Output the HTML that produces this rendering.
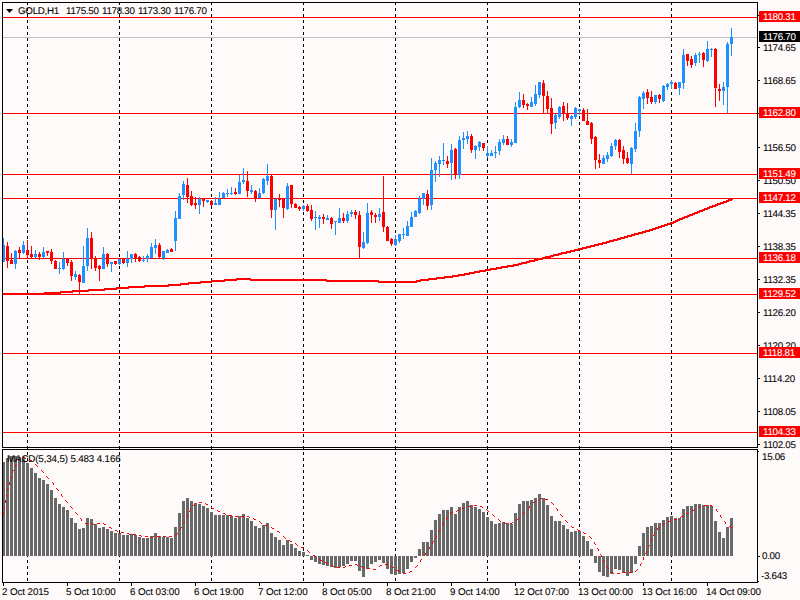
<!DOCTYPE html>
<html><head><meta charset="utf-8"><style>
html,body{margin:0;padding:0;}
body{width:800px;height:600px;overflow:hidden;position:relative;background:#FFFAFA;font-family:"Liberation Sans",sans-serif;}
.t{position:absolute;font-size:9.8px;line-height:14px;white-space:nowrap;text-rendering:geometricPrecision;letter-spacing:-0.3px;-webkit-text-stroke:0.08px currentColor;}
.box{position:absolute;left:759px;width:41px;height:11px;}
</style></head><body>
<svg width="800" height="600" style="position:absolute;left:0;top:0"><defs><clipPath id="cm"><rect x="3" y="3" width="754" height="444"/></clipPath><clipPath id="ci"><rect x="3" y="450" width="754" height="132"/></clipPath></defs><line x1="27.5" y1="2" x2="27.5" y2="582" stroke="#000" stroke-dasharray="3 3"/><line x1="119.5" y1="2" x2="119.5" y2="582" stroke="#000" stroke-dasharray="3 3"/><line x1="211.5" y1="2" x2="211.5" y2="582" stroke="#000" stroke-dasharray="3 3"/><line x1="303.5" y1="2" x2="303.5" y2="582" stroke="#000" stroke-dasharray="3 3"/><line x1="395.5" y1="2" x2="395.5" y2="582" stroke="#000" stroke-dasharray="3 3"/><line x1="487.5" y1="2" x2="487.5" y2="582" stroke="#000" stroke-dasharray="3 3"/><line x1="579.5" y1="2" x2="579.5" y2="582" stroke="#000" stroke-dasharray="3 3"/><line x1="671.5" y1="2" x2="671.5" y2="582" stroke="#000" stroke-dasharray="3 3"/><g clip-path="url(#cm)"><rect x="3" y="17" width="754" height="1" fill="#FF0000"/><rect x="3" y="113" width="754" height="1" fill="#FF0000"/><rect x="3" y="174" width="754" height="1" fill="#FF0000"/><rect x="3" y="198" width="754" height="1" fill="#FF0000"/><rect x="3" y="258" width="754" height="1" fill="#FF0000"/><rect x="3" y="294" width="754" height="1" fill="#FF0000"/><rect x="3" y="353" width="754" height="1" fill="#FF0000"/><rect x="3" y="432" width="754" height="1" fill="#FF0000"/><rect x="3" y="37" width="754" height="1" fill="#C0C0C0"/><rect x="3" y="293" width="41" height="2" fill="#FF0000"/><rect x="44" y="292" width="16" height="2" fill="#FF0000"/><rect x="60" y="291" width="12" height="2" fill="#FF0000"/><rect x="72" y="290" width="16" height="2" fill="#FF0000"/><rect x="88" y="289" width="16" height="2" fill="#FF0000"/><rect x="104" y="288" width="12" height="2" fill="#FF0000"/><rect x="116" y="287" width="12" height="2" fill="#FF0000"/><rect x="128" y="286" width="16" height="2" fill="#FF0000"/><rect x="144" y="285" width="24" height="2" fill="#FF0000"/><rect x="168" y="284" width="12" height="2" fill="#FF0000"/><rect x="180" y="283" width="8" height="2" fill="#FF0000"/><rect x="188" y="282" width="12" height="2" fill="#FF0000"/><rect x="200" y="281" width="11" height="2" fill="#FF0000"/><rect x="211" y="280" width="13" height="2" fill="#FF0000"/><rect x="224" y="279" width="12" height="2" fill="#FF0000"/><rect x="236" y="278" width="15" height="2" fill="#FF0000"/><rect x="251" y="279" width="76" height="2" fill="#FF0000"/><rect x="327" y="280" width="52" height="2" fill="#FF0000"/><rect x="379" y="281" width="37" height="2" fill="#FF0000"/><rect x="416" y="280" width="4" height="2" fill="#FF0000"/><rect x="420" y="279" width="8" height="2" fill="#FF0000"/><rect x="428" y="278" width="8" height="2" fill="#FF0000"/><rect x="436" y="277" width="8" height="2" fill="#FF0000"/><rect x="444" y="276" width="8" height="2" fill="#FF0000"/><rect x="452" y="275" width="6" height="2" fill="#FF0000"/><rect x="458" y="274" width="6" height="2" fill="#FF0000"/><rect x="464" y="273" width="5" height="2" fill="#FF0000"/><rect x="469" y="272" width="5" height="2" fill="#FF0000"/><rect x="474" y="271" width="5" height="2" fill="#FF0000"/><rect x="479" y="270" width="6" height="2" fill="#FF0000"/><rect x="485" y="269" width="5" height="2" fill="#FF0000"/><rect x="490" y="268" width="6" height="2" fill="#FF0000"/><rect x="496" y="267" width="5" height="2" fill="#FF0000"/><rect x="501" y="266" width="6" height="2" fill="#FF0000"/><rect x="507" y="265" width="6" height="2" fill="#FF0000"/><rect x="513" y="264" width="5" height="2" fill="#FF0000"/><rect x="518" y="263" width="3" height="2" fill="#FF0000"/><rect x="521" y="262" width="5" height="2" fill="#FF0000"/><rect x="526" y="261" width="3" height="2" fill="#FF0000"/><rect x="529" y="260" width="5" height="2" fill="#FF0000"/><rect x="534" y="259" width="3" height="2" fill="#FF0000"/><rect x="537" y="258" width="5" height="2" fill="#FF0000"/><rect x="542" y="257" width="3" height="2" fill="#FF0000"/><rect x="545" y="256" width="5" height="2" fill="#FF0000"/><rect x="550" y="255" width="3" height="2" fill="#FF0000"/><rect x="553" y="254" width="5" height="2" fill="#FF0000"/><rect x="558" y="253" width="3" height="2" fill="#FF0000"/><rect x="561" y="252" width="5" height="2" fill="#FF0000"/><rect x="566" y="251" width="4" height="2" fill="#FF0000"/><rect x="570" y="250" width="4" height="2" fill="#FF0000"/><rect x="574" y="249" width="4" height="2" fill="#FF0000"/><rect x="578" y="248" width="4" height="2" fill="#FF0000"/><rect x="582" y="247" width="4" height="2" fill="#FF0000"/><rect x="586" y="246" width="4" height="2" fill="#FF0000"/><rect x="590" y="245" width="4" height="2" fill="#FF0000"/><rect x="594" y="244" width="4" height="2" fill="#FF0000"/><rect x="598" y="243" width="4" height="2" fill="#FF0000"/><rect x="602" y="242" width="4" height="2" fill="#FF0000"/><rect x="606" y="241" width="3" height="2" fill="#FF0000"/><rect x="609" y="240" width="4" height="2" fill="#FF0000"/><rect x="613" y="239" width="4" height="2" fill="#FF0000"/><rect x="617" y="238" width="3" height="2" fill="#FF0000"/><rect x="620" y="237" width="4" height="2" fill="#FF0000"/><rect x="624" y="236" width="3" height="2" fill="#FF0000"/><rect x="627" y="235" width="4" height="2" fill="#FF0000"/><rect x="631" y="234" width="3" height="2" fill="#FF0000"/><rect x="634" y="233" width="4" height="2" fill="#FF0000"/><rect x="638" y="232" width="4" height="2" fill="#FF0000"/><rect x="642" y="231" width="3" height="2" fill="#FF0000"/><rect x="645" y="230" width="4" height="2" fill="#FF0000"/><rect x="649" y="229" width="3" height="2" fill="#FF0000"/><rect x="652" y="228" width="3" height="2" fill="#FF0000"/><rect x="655" y="227" width="3" height="2" fill="#FF0000"/><rect x="658" y="226" width="3" height="2" fill="#FF0000"/><rect x="661" y="225" width="3" height="2" fill="#FF0000"/><rect x="664" y="224" width="3" height="2" fill="#FF0000"/><rect x="667" y="223" width="3" height="2" fill="#FF0000"/><rect x="670" y="222" width="3" height="2" fill="#FF0000"/><rect x="673" y="221" width="2" height="2" fill="#FF0000"/><rect x="675" y="220" width="2" height="2" fill="#FF0000"/><rect x="677" y="219" width="2" height="2" fill="#FF0000"/><rect x="679" y="218" width="3" height="2" fill="#FF0000"/><rect x="682" y="217" width="2" height="2" fill="#FF0000"/><rect x="684" y="216" width="3" height="2" fill="#FF0000"/><rect x="687" y="215" width="2" height="2" fill="#FF0000"/><rect x="689" y="214" width="3" height="2" fill="#FF0000"/><rect x="692" y="213" width="2" height="2" fill="#FF0000"/><rect x="694" y="212" width="3" height="2" fill="#FF0000"/><rect x="697" y="211" width="2" height="2" fill="#FF0000"/><rect x="699" y="210" width="3" height="2" fill="#FF0000"/><rect x="702" y="209" width="2" height="2" fill="#FF0000"/><rect x="704" y="208" width="3" height="2" fill="#FF0000"/><rect x="707" y="207" width="2" height="2" fill="#FF0000"/><rect x="709" y="206" width="3" height="2" fill="#FF0000"/><rect x="712" y="205" width="3" height="2" fill="#FF0000"/><rect x="715" y="204" width="2" height="2" fill="#FF0000"/><rect x="717" y="203" width="3" height="2" fill="#FF0000"/><rect x="720" y="202" width="3" height="2" fill="#FF0000"/><rect x="723" y="201" width="3" height="2" fill="#FF0000"/><rect x="726" y="200" width="2" height="2" fill="#FF0000"/><rect x="728" y="199" width="3" height="2" fill="#FF0000"/><rect x="731" y="198" width="2" height="2" fill="#FF0000"/><rect x="44" y="292" width="1" height="3" fill="#FF0000"/><rect x="60" y="291" width="1" height="3" fill="#FF0000"/><rect x="72" y="290" width="1" height="3" fill="#FF0000"/><rect x="88" y="289" width="1" height="3" fill="#FF0000"/><rect x="104" y="288" width="1" height="3" fill="#FF0000"/><rect x="116" y="287" width="1" height="3" fill="#FF0000"/><rect x="128" y="286" width="1" height="3" fill="#FF0000"/><rect x="144" y="285" width="1" height="3" fill="#FF0000"/><rect x="168" y="284" width="1" height="3" fill="#FF0000"/><rect x="180" y="283" width="1" height="3" fill="#FF0000"/><rect x="188" y="282" width="1" height="3" fill="#FF0000"/><rect x="200" y="281" width="1" height="3" fill="#FF0000"/><rect x="211" y="280" width="1" height="3" fill="#FF0000"/><rect x="224" y="279" width="1" height="3" fill="#FF0000"/><rect x="236" y="278" width="1" height="3" fill="#FF0000"/><rect x="250" y="278" width="1" height="3" fill="#FF0000"/><rect x="326" y="279" width="1" height="3" fill="#FF0000"/><rect x="378" y="280" width="1" height="3" fill="#FF0000"/><rect x="416" y="280" width="1" height="3" fill="#FF0000"/><rect x="420" y="279" width="1" height="3" fill="#FF0000"/><rect x="428" y="278" width="1" height="3" fill="#FF0000"/><rect x="436" y="277" width="1" height="3" fill="#FF0000"/><rect x="444" y="276" width="1" height="3" fill="#FF0000"/><rect x="452" y="275" width="1" height="3" fill="#FF0000"/><rect x="458" y="274" width="1" height="3" fill="#FF0000"/><rect x="464" y="273" width="1" height="3" fill="#FF0000"/><rect x="469" y="272" width="1" height="3" fill="#FF0000"/><rect x="474" y="271" width="1" height="3" fill="#FF0000"/><rect x="479" y="270" width="1" height="3" fill="#FF0000"/><rect x="485" y="269" width="1" height="3" fill="#FF0000"/><rect x="490" y="268" width="1" height="3" fill="#FF0000"/><rect x="496" y="267" width="1" height="3" fill="#FF0000"/><rect x="501" y="266" width="1" height="3" fill="#FF0000"/><rect x="507" y="265" width="1" height="3" fill="#FF0000"/><rect x="513" y="264" width="1" height="3" fill="#FF0000"/><rect x="518" y="263" width="1" height="3" fill="#FF0000"/><rect x="521" y="262" width="1" height="3" fill="#FF0000"/><rect x="526" y="261" width="1" height="3" fill="#FF0000"/><rect x="529" y="260" width="1" height="3" fill="#FF0000"/><rect x="534" y="259" width="1" height="3" fill="#FF0000"/><rect x="537" y="258" width="1" height="3" fill="#FF0000"/><rect x="542" y="257" width="1" height="3" fill="#FF0000"/><rect x="545" y="256" width="1" height="3" fill="#FF0000"/><rect x="550" y="255" width="1" height="3" fill="#FF0000"/><rect x="553" y="254" width="1" height="3" fill="#FF0000"/><rect x="558" y="253" width="1" height="3" fill="#FF0000"/><rect x="561" y="252" width="1" height="3" fill="#FF0000"/><rect x="566" y="251" width="1" height="3" fill="#FF0000"/><rect x="570" y="250" width="1" height="3" fill="#FF0000"/><rect x="574" y="249" width="1" height="3" fill="#FF0000"/><rect x="578" y="248" width="1" height="3" fill="#FF0000"/><rect x="582" y="247" width="1" height="3" fill="#FF0000"/><rect x="586" y="246" width="1" height="3" fill="#FF0000"/><rect x="590" y="245" width="1" height="3" fill="#FF0000"/><rect x="594" y="244" width="1" height="3" fill="#FF0000"/><rect x="598" y="243" width="1" height="3" fill="#FF0000"/><rect x="602" y="242" width="1" height="3" fill="#FF0000"/><rect x="606" y="241" width="1" height="3" fill="#FF0000"/><rect x="609" y="240" width="1" height="3" fill="#FF0000"/><rect x="613" y="239" width="1" height="3" fill="#FF0000"/><rect x="617" y="238" width="1" height="3" fill="#FF0000"/><rect x="620" y="237" width="1" height="3" fill="#FF0000"/><rect x="624" y="236" width="1" height="3" fill="#FF0000"/><rect x="627" y="235" width="1" height="3" fill="#FF0000"/><rect x="631" y="234" width="1" height="3" fill="#FF0000"/><rect x="634" y="233" width="1" height="3" fill="#FF0000"/><rect x="638" y="232" width="1" height="3" fill="#FF0000"/><rect x="642" y="231" width="1" height="3" fill="#FF0000"/><rect x="645" y="230" width="1" height="3" fill="#FF0000"/><rect x="649" y="229" width="1" height="3" fill="#FF0000"/><rect x="652" y="228" width="1" height="3" fill="#FF0000"/><rect x="655" y="227" width="1" height="3" fill="#FF0000"/><rect x="658" y="226" width="1" height="3" fill="#FF0000"/><rect x="661" y="225" width="1" height="3" fill="#FF0000"/><rect x="664" y="224" width="1" height="3" fill="#FF0000"/><rect x="667" y="223" width="1" height="3" fill="#FF0000"/><rect x="670" y="222" width="1" height="3" fill="#FF0000"/><rect x="673" y="221" width="1" height="3" fill="#FF0000"/><rect x="675" y="220" width="1" height="3" fill="#FF0000"/><rect x="677" y="219" width="1" height="3" fill="#FF0000"/><rect x="679" y="218" width="1" height="3" fill="#FF0000"/><rect x="682" y="217" width="1" height="3" fill="#FF0000"/><rect x="684" y="216" width="1" height="3" fill="#FF0000"/><rect x="687" y="215" width="1" height="3" fill="#FF0000"/><rect x="689" y="214" width="1" height="3" fill="#FF0000"/><rect x="692" y="213" width="1" height="3" fill="#FF0000"/><rect x="694" y="212" width="1" height="3" fill="#FF0000"/><rect x="697" y="211" width="1" height="3" fill="#FF0000"/><rect x="699" y="210" width="1" height="3" fill="#FF0000"/><rect x="702" y="209" width="1" height="3" fill="#FF0000"/><rect x="704" y="208" width="1" height="3" fill="#FF0000"/><rect x="707" y="207" width="1" height="3" fill="#FF0000"/><rect x="709" y="206" width="1" height="3" fill="#FF0000"/><rect x="712" y="205" width="1" height="3" fill="#FF0000"/><rect x="715" y="204" width="1" height="3" fill="#FF0000"/><rect x="717" y="203" width="1" height="3" fill="#FF0000"/><rect x="720" y="202" width="1" height="3" fill="#FF0000"/><rect x="723" y="201" width="1" height="3" fill="#FF0000"/><rect x="726" y="200" width="1" height="3" fill="#FF0000"/><rect x="728" y="199" width="1" height="3" fill="#FF0000"/><rect x="731" y="198" width="1" height="3" fill="#FF0000"/><rect x="3" y="238" width="1" height="24" fill="#1E90FF"/><rect x="2" y="245" width="3" height="17" fill="#1E90FF"/><rect x="7" y="242" width="1" height="26" fill="#FF0000"/><rect x="6" y="246" width="3" height="15" fill="#FF0000"/><rect x="11" y="253" width="1" height="11" fill="#FF0000"/><rect x="10" y="260" width="3" height="4" fill="#FF0000"/><rect x="15" y="250" width="1" height="19" fill="#1E90FF"/><rect x="14" y="251" width="3" height="13" fill="#1E90FF"/><rect x="19" y="247" width="1" height="11" fill="#FF0000"/><rect x="18" y="250" width="3" height="3" fill="#FF0000"/><rect x="23" y="241" width="1" height="13" fill="#1E90FF"/><rect x="22" y="245" width="3" height="8" fill="#1E90FF"/><rect x="27" y="240" width="1" height="18" fill="#FF0000"/><rect x="26" y="250" width="3" height="5" fill="#FF0000"/><rect x="31" y="246" width="1" height="12" fill="#FF0000"/><rect x="30" y="254" width="3" height="3" fill="#FF0000"/><rect x="35" y="250" width="1" height="8" fill="#1E90FF"/><rect x="34" y="254" width="3" height="3" fill="#1E90FF"/><rect x="39" y="252" width="1" height="8" fill="#FF0000"/><rect x="38" y="254" width="3" height="3" fill="#FF0000"/><rect x="43" y="247" width="1" height="11" fill="#1E90FF"/><rect x="42" y="252" width="3" height="5" fill="#1E90FF"/><rect x="47" y="251" width="1" height="5" fill="#FF0000"/><rect x="46" y="251" width="3" height="2" fill="#FF0000"/><rect x="51" y="249" width="1" height="15" fill="#FF0000"/><rect x="50" y="252" width="3" height="9" fill="#FF0000"/><rect x="55" y="260" width="1" height="9" fill="#FF0000"/><rect x="54" y="261" width="3" height="8" fill="#FF0000"/><rect x="59" y="262" width="1" height="12" fill="#1E90FF"/><rect x="58" y="268" width="3" height="1" fill="#1E90FF"/><rect x="63" y="252" width="1" height="18" fill="#1E90FF"/><rect x="62" y="259" width="3" height="10" fill="#1E90FF"/><rect x="67" y="258" width="1" height="8" fill="#FF0000"/><rect x="66" y="259" width="3" height="4" fill="#FF0000"/><rect x="71" y="260" width="1" height="21" fill="#FF0000"/><rect x="70" y="262" width="3" height="14" fill="#FF0000"/><rect x="75" y="271" width="1" height="9" fill="#1E90FF"/><rect x="74" y="274" width="3" height="3" fill="#1E90FF"/><rect x="79" y="274" width="1" height="20" fill="#FF0000"/><rect x="78" y="275" width="3" height="7" fill="#FF0000"/><rect x="83" y="246" width="1" height="37" fill="#1E90FF"/><rect x="82" y="266" width="3" height="17" fill="#1E90FF"/><rect x="87" y="228" width="1" height="43" fill="#1E90FF"/><rect x="86" y="238" width="3" height="28" fill="#1E90FF"/><rect x="91" y="232" width="1" height="37" fill="#FF0000"/><rect x="90" y="238" width="3" height="20" fill="#FF0000"/><rect x="95" y="256" width="1" height="15" fill="#FF0000"/><rect x="94" y="258" width="3" height="10" fill="#FF0000"/><rect x="99" y="265" width="1" height="16" fill="#FF0000"/><rect x="98" y="266" width="3" height="3" fill="#FF0000"/><rect x="103" y="247" width="1" height="22" fill="#1E90FF"/><rect x="102" y="254" width="3" height="15" fill="#1E90FF"/><rect x="107" y="253" width="1" height="14" fill="#FF0000"/><rect x="106" y="254" width="3" height="10" fill="#FF0000"/><rect x="111" y="262" width="1" height="10" fill="#1E90FF"/><rect x="110" y="262" width="3" height="2" fill="#1E90FF"/><rect x="115" y="261" width="1" height="4" fill="#FF0000"/><rect x="114" y="261" width="3" height="3" fill="#FF0000"/><rect x="119" y="259" width="1" height="6" fill="#1E90FF"/><rect x="118" y="259" width="3" height="5" fill="#1E90FF"/><rect x="123" y="259" width="1" height="5" fill="#FF0000"/><rect x="122" y="259" width="3" height="4" fill="#FF0000"/><rect x="127" y="251" width="1" height="16" fill="#1E90FF"/><rect x="126" y="259" width="3" height="4" fill="#1E90FF"/><rect x="131" y="254" width="1" height="9" fill="#1E90FF"/><rect x="130" y="254" width="3" height="5" fill="#1E90FF"/><rect x="135" y="253" width="1" height="9" fill="#FF0000"/><rect x="134" y="254" width="3" height="5" fill="#FF0000"/><rect x="139" y="256" width="1" height="6" fill="#FF0000"/><rect x="138" y="257" width="3" height="4" fill="#FF0000"/><rect x="143" y="256" width="1" height="6" fill="#1E90FF"/><rect x="142" y="260" width="3" height="1" fill="#1E90FF"/><rect x="147" y="254" width="1" height="8" fill="#1E90FF"/><rect x="146" y="256" width="3" height="3" fill="#1E90FF"/><rect x="151" y="243" width="1" height="15" fill="#1E90FF"/><rect x="150" y="247" width="3" height="11" fill="#1E90FF"/><rect x="155" y="239" width="1" height="15" fill="#1E90FF"/><rect x="154" y="245" width="3" height="3" fill="#1E90FF"/><rect x="159" y="243" width="1" height="15" fill="#FF0000"/><rect x="158" y="245" width="3" height="12" fill="#FF0000"/><rect x="163" y="251" width="1" height="9" fill="#1E90FF"/><rect x="162" y="251" width="3" height="7" fill="#1E90FF"/><rect x="167" y="249" width="1" height="4" fill="#1E90FF"/><rect x="166" y="250" width="3" height="3" fill="#1E90FF"/><rect x="171" y="248" width="1" height="4" fill="#FF0000"/><rect x="170" y="249" width="3" height="3" fill="#FF0000"/><rect x="175" y="211" width="1" height="40" fill="#1E90FF"/><rect x="174" y="218" width="3" height="23" fill="#1E90FF"/><rect x="179" y="193" width="1" height="26" fill="#1E90FF"/><rect x="178" y="196" width="3" height="23" fill="#1E90FF"/><rect x="183" y="181" width="1" height="19" fill="#1E90FF"/><rect x="182" y="184" width="3" height="11" fill="#1E90FF"/><rect x="187" y="178" width="1" height="25" fill="#FF0000"/><rect x="186" y="185" width="3" height="12" fill="#FF0000"/><rect x="191" y="191" width="1" height="15" fill="#FF0000"/><rect x="190" y="196" width="3" height="9" fill="#FF0000"/><rect x="195" y="197" width="1" height="12" fill="#FF0000"/><rect x="194" y="203" width="3" height="2" fill="#FF0000"/><rect x="199" y="197" width="1" height="17" fill="#1E90FF"/><rect x="198" y="199" width="3" height="6" fill="#1E90FF"/><rect x="203" y="199" width="1" height="8" fill="#FF0000"/><rect x="202" y="199" width="3" height="2" fill="#FF0000"/><rect x="207" y="200" width="1" height="3" fill="#1E90FF"/><rect x="206" y="200" width="3" height="2" fill="#1E90FF"/><rect x="211" y="200" width="1" height="6" fill="#FF0000"/><rect x="210" y="201" width="3" height="4" fill="#FF0000"/><rect x="215" y="197" width="1" height="8" fill="#1E90FF"/><rect x="214" y="203" width="3" height="2" fill="#1E90FF"/><rect x="219" y="192" width="1" height="13" fill="#1E90FF"/><rect x="218" y="199" width="3" height="6" fill="#1E90FF"/><rect x="223" y="192" width="1" height="6" fill="#1E90FF"/><rect x="222" y="193" width="3" height="5" fill="#1E90FF"/><rect x="227" y="189" width="1" height="8" fill="#1E90FF"/><rect x="226" y="193" width="3" height="1" fill="#1E90FF"/><rect x="231" y="187" width="1" height="8" fill="#1E90FF"/><rect x="230" y="193" width="3" height="1" fill="#1E90FF"/><rect x="235" y="188" width="1" height="7" fill="#FF0000"/><rect x="234" y="192" width="3" height="2" fill="#FF0000"/><rect x="239" y="175" width="1" height="19" fill="#1E90FF"/><rect x="238" y="182" width="3" height="12" fill="#1E90FF"/><rect x="243" y="168" width="1" height="16" fill="#1E90FF"/><rect x="242" y="180" width="3" height="2" fill="#1E90FF"/><rect x="247" y="171" width="1" height="26" fill="#FF0000"/><rect x="246" y="181" width="3" height="10" fill="#FF0000"/><rect x="251" y="185" width="1" height="9" fill="#1E90FF"/><rect x="250" y="190" width="3" height="2" fill="#1E90FF"/><rect x="255" y="190" width="1" height="12" fill="#FF0000"/><rect x="254" y="191" width="3" height="7" fill="#FF0000"/><rect x="259" y="188" width="1" height="10" fill="#1E90FF"/><rect x="258" y="193" width="3" height="5" fill="#1E90FF"/><rect x="263" y="178" width="1" height="16" fill="#1E90FF"/><rect x="262" y="179" width="3" height="14" fill="#1E90FF"/><rect x="267" y="164" width="1" height="21" fill="#1E90FF"/><rect x="266" y="176" width="3" height="5" fill="#1E90FF"/><rect x="271" y="175" width="1" height="43" fill="#FF0000"/><rect x="270" y="176" width="3" height="34" fill="#FF0000"/><rect x="275" y="199" width="1" height="31" fill="#1E90FF"/><rect x="274" y="199" width="3" height="11" fill="#1E90FF"/><rect x="279" y="194" width="1" height="13" fill="#FF0000"/><rect x="278" y="199" width="3" height="1" fill="#FF0000"/><rect x="283" y="199" width="1" height="19" fill="#FF0000"/><rect x="282" y="199" width="3" height="9" fill="#FF0000"/><rect x="287" y="183" width="1" height="27" fill="#1E90FF"/><rect x="286" y="186" width="3" height="23" fill="#1E90FF"/><rect x="291" y="185" width="1" height="23" fill="#FF0000"/><rect x="290" y="185" width="3" height="19" fill="#FF0000"/><rect x="295" y="203" width="1" height="5" fill="#FF0000"/><rect x="294" y="204" width="3" height="4" fill="#FF0000"/><rect x="299" y="206" width="1" height="5" fill="#FF0000"/><rect x="298" y="207" width="3" height="2" fill="#FF0000"/><rect x="303" y="205" width="1" height="6" fill="#1E90FF"/><rect x="302" y="206" width="3" height="3" fill="#1E90FF"/><rect x="307" y="204" width="1" height="8" fill="#FF0000"/><rect x="306" y="206" width="3" height="5" fill="#FF0000"/><rect x="311" y="205" width="1" height="16" fill="#FF0000"/><rect x="310" y="210" width="3" height="9" fill="#FF0000"/><rect x="315" y="211" width="1" height="19" fill="#1E90FF"/><rect x="314" y="217" width="3" height="1" fill="#1E90FF"/><rect x="319" y="215" width="1" height="13" fill="#1E90FF"/><rect x="318" y="217" width="3" height="2" fill="#1E90FF"/><rect x="323" y="214" width="1" height="10" fill="#FF0000"/><rect x="322" y="217" width="3" height="2" fill="#FF0000"/><rect x="327" y="215" width="1" height="5" fill="#1E90FF"/><rect x="326" y="218" width="3" height="2" fill="#1E90FF"/><rect x="331" y="217" width="1" height="12" fill="#FF0000"/><rect x="330" y="218" width="3" height="6" fill="#FF0000"/><rect x="335" y="221" width="1" height="14" fill="#1E90FF"/><rect x="334" y="221" width="3" height="1" fill="#1E90FF"/><rect x="339" y="208" width="1" height="15" fill="#1E90FF"/><rect x="338" y="218" width="3" height="5" fill="#1E90FF"/><rect x="343" y="213" width="1" height="10" fill="#FF0000"/><rect x="342" y="218" width="3" height="3" fill="#FF0000"/><rect x="347" y="211" width="1" height="12" fill="#1E90FF"/><rect x="346" y="214" width="3" height="7" fill="#1E90FF"/><rect x="351" y="210" width="1" height="7" fill="#1E90FF"/><rect x="350" y="212" width="3" height="2" fill="#1E90FF"/><rect x="355" y="210" width="1" height="9" fill="#FF0000"/><rect x="354" y="212" width="3" height="3" fill="#FF0000"/><rect x="359" y="211" width="1" height="47" fill="#FF0000"/><rect x="358" y="215" width="3" height="32" fill="#FF0000"/><rect x="363" y="232" width="1" height="17" fill="#1E90FF"/><rect x="362" y="242" width="3" height="6" fill="#1E90FF"/><rect x="367" y="203" width="1" height="41" fill="#1E90FF"/><rect x="366" y="213" width="3" height="30" fill="#1E90FF"/><rect x="371" y="210" width="1" height="13" fill="#FF0000"/><rect x="370" y="212" width="3" height="3" fill="#FF0000"/><rect x="375" y="213" width="1" height="10" fill="#FF0000"/><rect x="374" y="215" width="3" height="2" fill="#FF0000"/><rect x="379" y="208" width="1" height="13" fill="#1E90FF"/><rect x="378" y="214" width="3" height="3" fill="#1E90FF"/><rect x="383" y="176" width="1" height="56" fill="#FF0000"/><rect x="382" y="212" width="3" height="15" fill="#FF0000"/><rect x="387" y="226" width="1" height="15" fill="#FF0000"/><rect x="386" y="227" width="3" height="14" fill="#FF0000"/><rect x="391" y="238" width="1" height="8" fill="#FF0000"/><rect x="390" y="239" width="3" height="5" fill="#FF0000"/><rect x="395" y="235" width="1" height="11" fill="#1E90FF"/><rect x="394" y="239" width="3" height="6" fill="#1E90FF"/><rect x="399" y="234" width="1" height="9" fill="#1E90FF"/><rect x="398" y="234" width="3" height="7" fill="#1E90FF"/><rect x="403" y="228" width="1" height="11" fill="#1E90FF"/><rect x="402" y="234" width="3" height="1" fill="#1E90FF"/><rect x="407" y="221" width="1" height="15" fill="#1E90FF"/><rect x="406" y="226" width="3" height="10" fill="#1E90FF"/><rect x="411" y="212" width="1" height="15" fill="#1E90FF"/><rect x="410" y="217" width="3" height="10" fill="#1E90FF"/><rect x="415" y="210" width="1" height="7" fill="#1E90FF"/><rect x="414" y="211" width="3" height="6" fill="#1E90FF"/><rect x="419" y="196" width="1" height="18" fill="#1E90FF"/><rect x="418" y="199" width="3" height="14" fill="#1E90FF"/><rect x="423" y="193" width="1" height="12" fill="#1E90FF"/><rect x="422" y="193" width="3" height="6" fill="#1E90FF"/><rect x="427" y="190" width="1" height="20" fill="#FF0000"/><rect x="426" y="194" width="3" height="12" fill="#FF0000"/><rect x="431" y="158" width="1" height="52" fill="#1E90FF"/><rect x="430" y="170" width="3" height="35" fill="#1E90FF"/><rect x="435" y="161" width="1" height="21" fill="#1E90FF"/><rect x="434" y="163" width="3" height="7" fill="#1E90FF"/><rect x="439" y="156" width="1" height="21" fill="#1E90FF"/><rect x="438" y="160" width="3" height="4" fill="#1E90FF"/><rect x="443" y="143" width="1" height="22" fill="#1E90FF"/><rect x="442" y="160" width="3" height="1" fill="#1E90FF"/><rect x="447" y="156" width="1" height="12" fill="#FF0000"/><rect x="446" y="161" width="3" height="3" fill="#FF0000"/><rect x="451" y="144" width="1" height="36" fill="#1E90FF"/><rect x="450" y="150" width="3" height="13" fill="#1E90FF"/><rect x="455" y="148" width="1" height="31" fill="#FF0000"/><rect x="454" y="149" width="3" height="26" fill="#FF0000"/><rect x="459" y="136" width="1" height="43" fill="#1E90FF"/><rect x="458" y="140" width="3" height="35" fill="#1E90FF"/><rect x="463" y="132" width="1" height="17" fill="#1E90FF"/><rect x="462" y="138" width="3" height="2" fill="#1E90FF"/><rect x="467" y="131" width="1" height="13" fill="#1E90FF"/><rect x="466" y="136" width="3" height="3" fill="#1E90FF"/><rect x="471" y="134" width="1" height="19" fill="#FF0000"/><rect x="470" y="136" width="3" height="14" fill="#FF0000"/><rect x="475" y="145" width="1" height="14" fill="#1E90FF"/><rect x="474" y="146" width="3" height="4" fill="#1E90FF"/><rect x="479" y="141" width="1" height="10" fill="#1E90FF"/><rect x="478" y="142" width="3" height="5" fill="#1E90FF"/><rect x="483" y="143" width="1" height="8" fill="#FF0000"/><rect x="482" y="143" width="3" height="5" fill="#FF0000"/><rect x="487" y="146" width="1" height="12" fill="#1E90FF"/><rect x="486" y="153" width="3" height="3" fill="#1E90FF"/><rect x="491" y="150" width="1" height="6" fill="#1E90FF"/><rect x="490" y="153" width="3" height="3" fill="#1E90FF"/><rect x="495" y="146" width="1" height="12" fill="#1E90FF"/><rect x="494" y="152" width="3" height="1" fill="#1E90FF"/><rect x="499" y="139" width="1" height="16" fill="#1E90FF"/><rect x="498" y="142" width="3" height="9" fill="#1E90FF"/><rect x="503" y="135" width="1" height="10" fill="#1E90FF"/><rect x="502" y="139" width="3" height="4" fill="#1E90FF"/><rect x="507" y="136" width="1" height="9" fill="#FF0000"/><rect x="506" y="139" width="3" height="6" fill="#FF0000"/><rect x="511" y="139" width="1" height="8" fill="#1E90FF"/><rect x="510" y="142" width="3" height="3" fill="#1E90FF"/><rect x="515" y="102" width="1" height="41" fill="#1E90FF"/><rect x="514" y="107" width="3" height="36" fill="#1E90FF"/><rect x="519" y="92" width="1" height="16" fill="#1E90FF"/><rect x="518" y="100" width="3" height="7" fill="#1E90FF"/><rect x="523" y="94" width="1" height="14" fill="#FF0000"/><rect x="522" y="100" width="3" height="5" fill="#FF0000"/><rect x="527" y="103" width="1" height="7" fill="#FF0000"/><rect x="526" y="104" width="3" height="2" fill="#FF0000"/><rect x="531" y="97" width="1" height="10" fill="#1E90FF"/><rect x="530" y="102" width="3" height="5" fill="#1E90FF"/><rect x="535" y="85" width="1" height="21" fill="#1E90FF"/><rect x="534" y="94" width="3" height="10" fill="#1E90FF"/><rect x="539" y="82" width="1" height="16" fill="#1E90FF"/><rect x="538" y="82" width="3" height="13" fill="#1E90FF"/><rect x="543" y="80" width="1" height="33" fill="#FF0000"/><rect x="542" y="83" width="3" height="13" fill="#FF0000"/><rect x="547" y="91" width="1" height="22" fill="#FF0000"/><rect x="546" y="96" width="3" height="13" fill="#FF0000"/><rect x="551" y="98" width="1" height="36" fill="#FF0000"/><rect x="550" y="108" width="3" height="16" fill="#FF0000"/><rect x="555" y="114" width="1" height="15" fill="#1E90FF"/><rect x="554" y="115" width="3" height="8" fill="#1E90FF"/><rect x="559" y="106" width="1" height="13" fill="#1E90FF"/><rect x="558" y="107" width="3" height="10" fill="#1E90FF"/><rect x="563" y="102" width="1" height="19" fill="#FF0000"/><rect x="562" y="106" width="3" height="8" fill="#FF0000"/><rect x="567" y="103" width="1" height="17" fill="#FF0000"/><rect x="566" y="114" width="3" height="4" fill="#FF0000"/><rect x="571" y="115" width="1" height="11" fill="#1E90FF"/><rect x="570" y="116" width="3" height="3" fill="#1E90FF"/><rect x="575" y="107" width="1" height="12" fill="#1E90FF"/><rect x="574" y="108" width="3" height="9" fill="#1E90FF"/><rect x="579" y="109" width="1" height="6" fill="#1E90FF"/><rect x="578" y="109" width="3" height="2" fill="#1E90FF"/><rect x="583" y="108" width="1" height="13" fill="#FF0000"/><rect x="582" y="110" width="3" height="11" fill="#FF0000"/><rect x="587" y="109" width="1" height="16" fill="#FF0000"/><rect x="586" y="121" width="3" height="4" fill="#FF0000"/><rect x="591" y="122" width="1" height="22" fill="#FF0000"/><rect x="590" y="123" width="3" height="16" fill="#FF0000"/><rect x="595" y="136" width="1" height="33" fill="#FF0000"/><rect x="594" y="137" width="3" height="23" fill="#FF0000"/><rect x="599" y="154" width="1" height="14" fill="#FF0000"/><rect x="598" y="160" width="3" height="3" fill="#FF0000"/><rect x="603" y="155" width="1" height="9" fill="#1E90FF"/><rect x="602" y="158" width="3" height="6" fill="#1E90FF"/><rect x="607" y="152" width="1" height="10" fill="#1E90FF"/><rect x="606" y="155" width="3" height="4" fill="#1E90FF"/><rect x="611" y="143" width="1" height="14" fill="#1E90FF"/><rect x="610" y="146" width="3" height="10" fill="#1E90FF"/><rect x="615" y="139" width="1" height="11" fill="#1E90FF"/><rect x="614" y="140" width="3" height="6" fill="#1E90FF"/><rect x="619" y="139" width="1" height="19" fill="#FF0000"/><rect x="618" y="140" width="3" height="12" fill="#FF0000"/><rect x="623" y="146" width="1" height="18" fill="#FF0000"/><rect x="622" y="150" width="3" height="9" fill="#FF0000"/><rect x="627" y="152" width="1" height="12" fill="#FF0000"/><rect x="626" y="158" width="3" height="5" fill="#FF0000"/><rect x="631" y="147" width="1" height="27" fill="#1E90FF"/><rect x="630" y="148" width="3" height="16" fill="#1E90FF"/><rect x="635" y="123" width="1" height="29" fill="#1E90FF"/><rect x="634" y="131" width="3" height="18" fill="#1E90FF"/><rect x="639" y="96" width="1" height="41" fill="#1E90FF"/><rect x="638" y="97" width="3" height="34" fill="#1E90FF"/><rect x="643" y="91" width="1" height="18" fill="#1E90FF"/><rect x="642" y="93" width="3" height="6" fill="#1E90FF"/><rect x="647" y="89" width="1" height="15" fill="#FF0000"/><rect x="646" y="92" width="3" height="6" fill="#FF0000"/><rect x="651" y="91" width="1" height="13" fill="#FF0000"/><rect x="650" y="97" width="3" height="5" fill="#FF0000"/><rect x="655" y="95" width="1" height="9" fill="#1E90FF"/><rect x="654" y="95" width="3" height="7" fill="#1E90FF"/><rect x="659" y="94" width="1" height="9" fill="#FF0000"/><rect x="658" y="95" width="3" height="4" fill="#FF0000"/><rect x="663" y="85" width="1" height="17" fill="#1E90FF"/><rect x="662" y="86" width="3" height="15" fill="#1E90FF"/><rect x="667" y="83" width="1" height="7" fill="#1E90FF"/><rect x="666" y="84" width="3" height="3" fill="#1E90FF"/><rect x="671" y="80" width="1" height="9" fill="#1E90FF"/><rect x="670" y="82" width="3" height="2" fill="#1E90FF"/><rect x="675" y="82" width="1" height="7" fill="#FF0000"/><rect x="674" y="83" width="3" height="6" fill="#FF0000"/><rect x="679" y="82" width="1" height="13" fill="#1E90FF"/><rect x="678" y="82" width="3" height="6" fill="#1E90FF"/><rect x="683" y="49" width="1" height="40" fill="#1E90FF"/><rect x="682" y="55" width="3" height="28" fill="#1E90FF"/><rect x="687" y="54" width="1" height="12" fill="#FF0000"/><rect x="686" y="54" width="3" height="7" fill="#FF0000"/><rect x="691" y="56" width="1" height="12" fill="#FF0000"/><rect x="690" y="59" width="3" height="6" fill="#FF0000"/><rect x="695" y="53" width="1" height="13" fill="#1E90FF"/><rect x="694" y="55" width="3" height="8" fill="#1E90FF"/><rect x="699" y="52" width="1" height="11" fill="#1E90FF"/><rect x="698" y="54" width="3" height="1" fill="#1E90FF"/><rect x="703" y="52" width="1" height="15" fill="#FF0000"/><rect x="702" y="53" width="3" height="7" fill="#FF0000"/><rect x="707" y="41" width="1" height="21" fill="#1E90FF"/><rect x="706" y="49" width="3" height="12" fill="#1E90FF"/><rect x="711" y="48" width="1" height="9" fill="#1E90FF"/><rect x="710" y="49" width="3" height="1" fill="#1E90FF"/><rect x="715" y="48" width="1" height="59" fill="#FF0000"/><rect x="714" y="49" width="3" height="39" fill="#FF0000"/><rect x="719" y="84" width="1" height="17" fill="#FF0000"/><rect x="718" y="89" width="3" height="2" fill="#FF0000"/><rect x="723" y="82" width="1" height="23" fill="#1E90FF"/><rect x="722" y="87" width="3" height="4" fill="#1E90FF"/><rect x="727" y="42" width="1" height="71" fill="#1E90FF"/><rect x="726" y="44" width="3" height="43" fill="#1E90FF"/><rect x="731" y="28" width="1" height="28" fill="#1E90FF"/><rect x="730" y="37" width="3" height="7" fill="#1E90FF"/></g><g clip-path="url(#ci)"><rect x="2" y="462" width="3" height="94" fill="#696969"/><rect x="6" y="458" width="3" height="98" fill="#696969"/><rect x="10" y="456" width="3" height="100" fill="#696969"/><rect x="14" y="456" width="3" height="100" fill="#696969"/><rect x="18" y="457" width="3" height="99" fill="#696969"/><rect x="22" y="458" width="3" height="98" fill="#696969"/><rect x="26" y="463" width="3" height="93" fill="#696969"/><rect x="30" y="468" width="3" height="88" fill="#696969"/><rect x="34" y="473" width="3" height="83" fill="#696969"/><rect x="38" y="478" width="3" height="78" fill="#696969"/><rect x="42" y="480" width="3" height="76" fill="#696969"/><rect x="46" y="484" width="3" height="72" fill="#696969"/><rect x="50" y="490" width="3" height="66" fill="#696969"/><rect x="54" y="498" width="3" height="58" fill="#696969"/><rect x="58" y="504" width="3" height="52" fill="#696969"/><rect x="62" y="507" width="3" height="49" fill="#696969"/><rect x="66" y="510" width="3" height="46" fill="#696969"/><rect x="70" y="518" width="3" height="38" fill="#696969"/><rect x="74" y="523" width="3" height="33" fill="#696969"/><rect x="78" y="529" width="3" height="27" fill="#696969"/><rect x="82" y="528" width="3" height="28" fill="#696969"/><rect x="86" y="518" width="3" height="38" fill="#696969"/><rect x="90" y="519" width="3" height="37" fill="#696969"/><rect x="94" y="524" width="3" height="32" fill="#696969"/><rect x="98" y="528" width="3" height="28" fill="#696969"/><rect x="102" y="527" width="3" height="29" fill="#696969"/><rect x="106" y="529" width="3" height="27" fill="#696969"/><rect x="110" y="531" width="3" height="25" fill="#696969"/><rect x="114" y="533" width="3" height="23" fill="#696969"/><rect x="118" y="533" width="3" height="23" fill="#696969"/><rect x="122" y="535" width="3" height="21" fill="#696969"/><rect x="126" y="535" width="3" height="21" fill="#696969"/><rect x="130" y="534" width="3" height="22" fill="#696969"/><rect x="134" y="535" width="3" height="21" fill="#696969"/><rect x="138" y="537" width="3" height="19" fill="#696969"/><rect x="142" y="538" width="3" height="18" fill="#696969"/><rect x="146" y="538" width="3" height="18" fill="#696969"/><rect x="150" y="536" width="3" height="20" fill="#696969"/><rect x="154" y="533" width="3" height="23" fill="#696969"/><rect x="158" y="536" width="3" height="20" fill="#696969"/><rect x="162" y="537" width="3" height="19" fill="#696969"/><rect x="166" y="537" width="3" height="19" fill="#696969"/><rect x="170" y="538" width="3" height="18" fill="#696969"/><rect x="174" y="527" width="3" height="29" fill="#696969"/><rect x="178" y="513" width="3" height="43" fill="#696969"/><rect x="182" y="501" width="3" height="55" fill="#696969"/><rect x="186" y="498" width="3" height="58" fill="#696969"/><rect x="190" y="501" width="3" height="55" fill="#696969"/><rect x="194" y="503" width="3" height="53" fill="#696969"/><rect x="198" y="504" width="3" height="52" fill="#696969"/><rect x="202" y="506" width="3" height="50" fill="#696969"/><rect x="206" y="508" width="3" height="48" fill="#696969"/><rect x="210" y="512" width="3" height="44" fill="#696969"/><rect x="214" y="515" width="3" height="41" fill="#696969"/><rect x="218" y="515" width="3" height="41" fill="#696969"/><rect x="222" y="515" width="3" height="41" fill="#696969"/><rect x="226" y="515" width="3" height="41" fill="#696969"/><rect x="230" y="516" width="3" height="40" fill="#696969"/><rect x="234" y="518" width="3" height="38" fill="#696969"/><rect x="238" y="516" width="3" height="40" fill="#696969"/><rect x="242" y="514" width="3" height="42" fill="#696969"/><rect x="246" y="518" width="3" height="38" fill="#696969"/><rect x="250" y="521" width="3" height="35" fill="#696969"/><rect x="254" y="526" width="3" height="30" fill="#696969"/><rect x="258" y="528" width="3" height="28" fill="#696969"/><rect x="262" y="525" width="3" height="31" fill="#696969"/><rect x="266" y="523" width="3" height="33" fill="#696969"/><rect x="270" y="533" width="3" height="23" fill="#696969"/><rect x="274" y="537" width="3" height="19" fill="#696969"/><rect x="278" y="540" width="3" height="16" fill="#696969"/><rect x="282" y="545" width="3" height="11" fill="#696969"/><rect x="286" y="540" width="3" height="16" fill="#696969"/><rect x="290" y="544" width="3" height="12" fill="#696969"/><rect x="294" y="548" width="3" height="8" fill="#696969"/><rect x="298" y="551" width="3" height="5" fill="#696969"/><rect x="302" y="552" width="3" height="4" fill="#696969"/><rect x="306" y="555" width="3" height="1" fill="#696969"/><rect x="310" y="556" width="3" height="4" fill="#696969"/><rect x="314" y="556" width="3" height="6" fill="#696969"/><rect x="318" y="556" width="3" height="8" fill="#696969"/><rect x="322" y="556" width="3" height="9" fill="#696969"/><rect x="326" y="556" width="3" height="10" fill="#696969"/><rect x="330" y="556" width="3" height="11" fill="#696969"/><rect x="334" y="556" width="3" height="12" fill="#696969"/><rect x="338" y="556" width="3" height="11" fill="#696969"/><rect x="342" y="556" width="3" height="10" fill="#696969"/><rect x="346" y="556" width="3" height="8" fill="#696969"/><rect x="350" y="556" width="3" height="5" fill="#696969"/><rect x="354" y="556" width="3" height="5" fill="#696969"/><rect x="358" y="556" width="3" height="15" fill="#696969"/><rect x="362" y="556" width="3" height="21" fill="#696969"/><rect x="366" y="556" width="3" height="13" fill="#696969"/><rect x="370" y="556" width="3" height="8" fill="#696969"/><rect x="374" y="556" width="3" height="6" fill="#696969"/><rect x="378" y="556" width="3" height="4" fill="#696969"/><rect x="382" y="556" width="3" height="7" fill="#696969"/><rect x="386" y="556" width="3" height="13" fill="#696969"/><rect x="390" y="556" width="3" height="18" fill="#696969"/><rect x="394" y="556" width="3" height="19" fill="#696969"/><rect x="398" y="556" width="3" height="18" fill="#696969"/><rect x="402" y="556" width="3" height="17" fill="#696969"/><rect x="406" y="556" width="3" height="13" fill="#696969"/><rect x="410" y="556" width="3" height="6" fill="#696969"/><rect x="414" y="556" width="3" height="2" fill="#696969"/><rect x="418" y="549" width="3" height="7" fill="#696969"/><rect x="422" y="542" width="3" height="14" fill="#696969"/><rect x="426" y="542" width="3" height="14" fill="#696969"/><rect x="430" y="530" width="3" height="26" fill="#696969"/><rect x="434" y="520" width="3" height="36" fill="#696969"/><rect x="438" y="514" width="3" height="42" fill="#696969"/><rect x="442" y="510" width="3" height="46" fill="#696969"/><rect x="446" y="510" width="3" height="46" fill="#696969"/><rect x="450" y="507" width="3" height="49" fill="#696969"/><rect x="454" y="514" width="3" height="42" fill="#696969"/><rect x="458" y="507" width="3" height="49" fill="#696969"/><rect x="462" y="503" width="3" height="53" fill="#696969"/><rect x="466" y="501" width="3" height="55" fill="#696969"/><rect x="470" y="505" width="3" height="51" fill="#696969"/><rect x="474" y="507" width="3" height="49" fill="#696969"/><rect x="478" y="509" width="3" height="47" fill="#696969"/><rect x="482" y="512" width="3" height="44" fill="#696969"/><rect x="486" y="517" width="3" height="39" fill="#696969"/><rect x="490" y="521" width="3" height="35" fill="#696969"/><rect x="494" y="524" width="3" height="32" fill="#696969"/><rect x="498" y="523" width="3" height="33" fill="#696969"/><rect x="502" y="522" width="3" height="34" fill="#696969"/><rect x="506" y="523" width="3" height="33" fill="#696969"/><rect x="510" y="524" width="3" height="32" fill="#696969"/><rect x="514" y="513" width="3" height="43" fill="#696969"/><rect x="518" y="504" width="3" height="52" fill="#696969"/><rect x="522" y="501" width="3" height="55" fill="#696969"/><rect x="526" y="501" width="3" height="55" fill="#696969"/><rect x="530" y="500" width="3" height="56" fill="#696969"/><rect x="534" y="498" width="3" height="58" fill="#696969"/><rect x="538" y="494" width="3" height="62" fill="#696969"/><rect x="542" y="498" width="3" height="58" fill="#696969"/><rect x="546" y="505" width="3" height="51" fill="#696969"/><rect x="550" y="516" width="3" height="40" fill="#696969"/><rect x="554" y="521" width="3" height="35" fill="#696969"/><rect x="558" y="521" width="3" height="35" fill="#696969"/><rect x="562" y="525" width="3" height="31" fill="#696969"/><rect x="566" y="529" width="3" height="27" fill="#696969"/><rect x="570" y="532" width="3" height="24" fill="#696969"/><rect x="574" y="531" width="3" height="25" fill="#696969"/><rect x="578" y="531" width="3" height="25" fill="#696969"/><rect x="582" y="536" width="3" height="20" fill="#696969"/><rect x="586" y="541" width="3" height="15" fill="#696969"/><rect x="590" y="549" width="3" height="7" fill="#696969"/><rect x="594" y="556" width="3" height="7" fill="#696969"/><rect x="598" y="556" width="3" height="16" fill="#696969"/><rect x="602" y="556" width="3" height="20" fill="#696969"/><rect x="606" y="556" width="3" height="21" fill="#696969"/><rect x="610" y="556" width="3" height="18" fill="#696969"/><rect x="614" y="556" width="3" height="13" fill="#696969"/><rect x="618" y="556" width="3" height="14" fill="#696969"/><rect x="622" y="556" width="3" height="17" fill="#696969"/><rect x="626" y="556" width="3" height="20" fill="#696969"/><rect x="630" y="556" width="3" height="17" fill="#696969"/><rect x="634" y="556" width="3" height="8" fill="#696969"/><rect x="638" y="546" width="3" height="10" fill="#696969"/><rect x="642" y="533" width="3" height="23" fill="#696969"/><rect x="646" y="527" width="3" height="29" fill="#696969"/><rect x="650" y="526" width="3" height="30" fill="#696969"/><rect x="654" y="523" width="3" height="33" fill="#696969"/><rect x="658" y="523" width="3" height="33" fill="#696969"/><rect x="662" y="520" width="3" height="36" fill="#696969"/><rect x="666" y="517" width="3" height="39" fill="#696969"/><rect x="670" y="516" width="3" height="40" fill="#696969"/><rect x="674" y="518" width="3" height="38" fill="#696969"/><rect x="678" y="518" width="3" height="38" fill="#696969"/><rect x="682" y="509" width="3" height="47" fill="#696969"/><rect x="686" y="506" width="3" height="50" fill="#696969"/><rect x="690" y="506" width="3" height="50" fill="#696969"/><rect x="694" y="504" width="3" height="52" fill="#696969"/><rect x="698" y="504" width="3" height="52" fill="#696969"/><rect x="702" y="505" width="3" height="51" fill="#696969"/><rect x="706" y="505" width="3" height="51" fill="#696969"/><rect x="710" y="506" width="3" height="50" fill="#696969"/><rect x="714" y="521" width="3" height="35" fill="#696969"/><rect x="718" y="532" width="3" height="24" fill="#696969"/><rect x="722" y="538" width="3" height="18" fill="#696969"/><rect x="726" y="527" width="3" height="29" fill="#696969"/><rect x="730" y="518" width="3" height="38" fill="#696969"/><path d="M3 514h1v1h-1zM3 513h1v1h-1zM3 512h1v1h-1zM4 508h1v1h-1zM4 507h1v1h-1zM4 506h1v1h-1zM5 502h1v1h-1zM5 501h1v1h-1zM5 500h1v1h-1zM6 496h1v1h-1zM6 495h1v1h-1zM6 494h1v1h-1zM7 490h1v1h-1zM7 489h1v1h-1zM8 488h1v1h-1zM9 484h1v1h-1zM9 483h1v1h-1zM9 482h1v1h-1zM10 478h1v1h-1zM10 477h1v1h-1zM11 476h1v1h-1zM12 472h1v1h-1zM12 471h1v1h-1zM13 470h1v1h-1zM15 466h1v1h-1zM15 465h1v1h-1zM16 464h1v1h-1zM18 460h1v1h-1zM18 459h1v1h-1zM19 458h1v1h-1zM23 457h1v1h-1zM24 457h1v1h-1zM25 458h1v1h-1zM29 459h1v1h-1zM30 460h1v1h-1zM31 460h1v1h-1zM35 464h1v1h-1zM36 465h1v1h-1zM37 466h1v1h-1zM41 470h1v1h-1zM42 471h1v1h-1zM43 472h1v1h-1zM46 476h1v1h-1zM47 477h1v1h-1zM48 478h1v1h-1zM52 482h1v1h-1zM53 483h1v1h-1zM53 484h1v1h-1zM56 488h1v1h-1zM57 489h1v1h-1zM58 490h1v1h-1zM61 494h1v1h-1zM61 495h1v1h-1zM62 496h1v1h-1zM65 500h1v1h-1zM66 501h1v1h-1zM67 502h1v1h-1zM70 506h1v1h-1zM71 507h1v1h-1zM72 508h1v1h-1zM75 512h1v1h-1zM76 513h1v1h-1zM77 514h1v1h-1zM80 518h1v1h-1zM81 519h1v1h-1zM81 520h1v1h-1zM85 523h1v1h-1zM86 523h1v1h-1zM87 523h1v1h-1zM91 523h1v1h-1zM92 523h1v1h-1zM93 524h1v1h-1zM97 523h1v1h-1zM98 523h1v1h-1zM99 523h1v1h-1zM103 523h1v1h-1zM104 524h1v1h-1zM105 524h1v1h-1zM109 527h1v1h-1zM110 527h1v1h-1zM111 528h1v1h-1zM115 530h1v1h-1zM116 530h1v1h-1zM117 531h1v1h-1zM121 532h1v1h-1zM122 532h1v1h-1zM123 532h1v1h-1zM127 533h1v1h-1zM128 533h1v1h-1zM129 534h1v1h-1zM133 534h1v1h-1zM134 534h1v1h-1zM135 534h1v1h-1zM139 535h1v1h-1zM140 535h1v1h-1zM141 536h1v1h-1zM145 536h1v1h-1zM146 536h1v1h-1zM147 536h1v1h-1zM151 537h1v1h-1zM152 537h1v1h-1zM153 536h1v1h-1zM157 536h1v1h-1zM158 536h1v1h-1zM159 536h1v1h-1zM163 536h1v1h-1zM164 536h1v1h-1zM165 536h1v1h-1zM169 536h1v1h-1zM170 536h1v1h-1zM171 536h1v1h-1zM175 535h1v1h-1zM176 534h1v1h-1zM177 533h1v1h-1zM180 529h1v1h-1zM180 528h1v1h-1zM181 527h1v1h-1zM183 523h1v1h-1zM184 522h1v1h-1zM184 521h1v1h-1zM186 517h1v1h-1zM187 516h1v1h-1zM187 515h1v1h-1zM189 511h1v1h-1zM190 510h1v1h-1zM190 509h1v1h-1zM193 505h1v1h-1zM194 504h1v1h-1zM195 503h1v1h-1zM199 502h1v1h-1zM200 502h1v1h-1zM201 502h1v1h-1zM205 503h1v1h-1zM206 504h1v1h-1zM207 504h1v1h-1zM211 507h1v1h-1zM212 508h1v1h-1zM213 508h1v1h-1zM217 510h1v1h-1zM218 511h1v1h-1zM219 511h1v1h-1zM223 513h1v1h-1zM224 513h1v1h-1zM225 514h1v1h-1zM229 515h1v1h-1zM230 515h1v1h-1zM231 515h1v1h-1zM235 516h1v1h-1zM236 516h1v1h-1zM237 516h1v1h-1zM241 516h1v1h-1zM242 516h1v1h-1zM243 516h1v1h-1zM247 516h1v1h-1zM248 516h1v1h-1zM249 517h1v1h-1zM253 518h1v1h-1zM254 519h1v1h-1zM255 519h1v1h-1zM259 521h1v1h-1zM260 522h1v1h-1zM261 523h1v1h-1zM265 525h1v1h-1zM266 525h1v1h-1zM267 525h1v1h-1zM271 527h1v1h-1zM272 528h1v1h-1zM273 528h1v1h-1zM277 531h1v1h-1zM278 531h1v1h-1zM279 532h1v1h-1zM283 536h1v1h-1zM284 537h1v1h-1zM285 538h1v1h-1zM289 540h1v1h-1zM290 541h1v1h-1zM291 541h1v1h-1zM295 543h1v1h-1zM296 544h1v1h-1zM297 545h1v1h-1zM301 547h1v1h-1zM302 547h1v1h-1zM303 547h1v1h-1zM307 550h1v1h-1zM308 551h1v1h-1zM309 552h1v1h-1zM313 555h1v1h-1zM314 555h1v1h-1zM315 556h1v1h-1zM319 559h1v1h-1zM320 560h1v1h-1zM321 560h1v1h-1zM325 562h1v1h-1zM326 563h1v1h-1zM327 563h1v1h-1zM331 565h1v1h-1zM332 565h1v1h-1zM333 566h1v1h-1zM337 567h1v1h-1zM338 567h1v1h-1zM339 567h1v1h-1zM343 567h1v1h-1zM344 567h1v1h-1zM345 566h1v1h-1zM349 565h1v1h-1zM350 565h1v1h-1zM351 565h1v1h-1zM355 564h1v1h-1zM356 564h1v1h-1zM357 565h1v1h-1zM361 566h1v1h-1zM362 567h1v1h-1zM363 567h1v1h-1zM367 568h1v1h-1zM368 568h1v1h-1zM369 568h1v1h-1zM373 569h1v1h-1zM374 569h1v1h-1zM375 569h1v1h-1zM379 566h1v1h-1zM380 565h1v1h-1zM381 565h1v1h-1zM385 564h1v1h-1zM386 564h1v1h-1zM387 564h1v1h-1zM391 566h1v1h-1zM392 567h1v1h-1zM393 567h1v1h-1zM397 570h1v1h-1zM398 570h1v1h-1zM399 571h1v1h-1zM403 573h1v1h-1zM404 573h1v1h-1zM405 573h1v1h-1zM409 572h1v1h-1zM410 571h1v1h-1zM411 571h1v1h-1zM415 567h1v1h-1zM416 566h1v1h-1zM417 565h1v1h-1zM420 561h1v1h-1zM420 560h1v1h-1zM421 559h1v1h-1zM424 555h1v1h-1zM425 554h1v1h-1zM425 553h1v1h-1zM428 549h1v1h-1zM429 548h1v1h-1zM429 547h1v1h-1zM432 543h1v1h-1zM432 542h1v1h-1zM433 541h1v1h-1zM435 537h1v1h-1zM436 536h1v1h-1zM436 535h1v1h-1zM438 531h1v1h-1zM439 530h1v1h-1zM440 529h1v1h-1zM442 525h1v1h-1zM442 524h1v1h-1zM443 523h1v1h-1zM446 519h1v1h-1zM446 518h1v1h-1zM447 517h1v1h-1zM450 513h1v1h-1zM451 512h1v1h-1zM452 512h1v1h-1zM456 511h1v1h-1zM457 510h1v1h-1zM458 510h1v1h-1zM462 508h1v1h-1zM463 508h1v1h-1zM464 507h1v1h-1zM468 506h1v1h-1zM469 506h1v1h-1zM470 506h1v1h-1zM474 505h1v1h-1zM475 505h1v1h-1zM476 505h1v1h-1zM480 506h1v1h-1zM481 506h1v1h-1zM482 507h1v1h-1zM486 509h1v1h-1zM487 510h1v1h-1zM488 511h1v1h-1zM492 514h1v1h-1zM493 515h1v1h-1zM494 516h1v1h-1zM498 519h1v1h-1zM499 520h1v1h-1zM500 521h1v1h-1zM504 522h1v1h-1zM505 523h1v1h-1zM506 523h1v1h-1zM510 523h1v1h-1zM511 523h1v1h-1zM512 522h1v1h-1zM516 520h1v1h-1zM517 519h1v1h-1zM518 518h1v1h-1zM522 514h1v1h-1zM523 513h1v1h-1zM524 512h1v1h-1zM528 508h1v1h-1zM529 507h1v1h-1zM529 506h1v1h-1zM533 502h1v1h-1zM534 502h1v1h-1zM535 501h1v1h-1zM539 499h1v1h-1zM540 499h1v1h-1zM541 498h1v1h-1zM545 499h1v1h-1zM546 499h1v1h-1zM547 499h1v1h-1zM551 502h1v1h-1zM552 503h1v1h-1zM553 504h1v1h-1zM556 508h1v1h-1zM557 509h1v1h-1zM557 510h1v1h-1zM560 514h1v1h-1zM561 515h1v1h-1zM562 516h1v1h-1zM565 520h1v1h-1zM566 521h1v1h-1zM567 522h1v1h-1zM571 526h1v1h-1zM572 527h1v1h-1zM573 527h1v1h-1zM577 529h1v1h-1zM578 530h1v1h-1zM579 530h1v1h-1zM583 532h1v1h-1zM584 533h1v1h-1zM585 533h1v1h-1zM589 536h1v1h-1zM590 537h1v1h-1zM591 538h1v1h-1zM594 542h1v1h-1zM594 543h1v1h-1zM595 544h1v1h-1zM597 548h1v1h-1zM598 549h1v1h-1zM598 550h1v1h-1zM600 554h1v1h-1zM601 555h1v1h-1zM601 556h1v1h-1zM603 560h1v1h-1zM604 561h1v1h-1zM604 562h1v1h-1zM606 566h1v1h-1zM607 567h1v1h-1zM608 568h1v1h-1zM611 572h1v1h-1zM612 572h1v1h-1zM613 573h1v1h-1zM617 573h1v1h-1zM618 573h1v1h-1zM619 573h1v1h-1zM623 572h1v1h-1zM624 572h1v1h-1zM625 572h1v1h-1zM629 572h1v1h-1zM630 572h1v1h-1zM631 572h1v1h-1zM635 571h1v1h-1zM636 570h1v1h-1zM637 569h1v1h-1zM640 565h1v1h-1zM640 564h1v1h-1zM641 563h1v1h-1zM643 559h1v1h-1zM643 558h1v1h-1zM643 557h1v1h-1zM645 553h1v1h-1zM646 552h1v1h-1zM646 551h1v1h-1zM648 547h1v1h-1zM648 546h1v1h-1zM649 545h1v1h-1zM650 541h1v1h-1zM651 540h1v1h-1zM651 539h1v1h-1zM653 535h1v1h-1zM654 534h1v1h-1zM654 533h1v1h-1zM657 529h1v1h-1zM657 528h1v1h-1zM658 527h1v1h-1zM662 524h1v1h-1zM663 524h1v1h-1zM664 523h1v1h-1zM668 521h1v1h-1zM669 521h1v1h-1zM670 520h1v1h-1zM674 519h1v1h-1zM675 519h1v1h-1zM676 519h1v1h-1zM680 517h1v1h-1zM681 516h1v1h-1zM682 516h1v1h-1zM686 513h1v1h-1zM687 513h1v1h-1zM688 512h1v1h-1zM692 510h1v1h-1zM693 510h1v1h-1zM694 509h1v1h-1zM698 507h1v1h-1zM699 506h1v1h-1zM700 506h1v1h-1zM704 505h1v1h-1zM705 505h1v1h-1zM706 505h1v1h-1zM710 505h1v1h-1zM711 505h1v1h-1zM712 506h1v1h-1zM716 509h1v1h-1zM716 510h1v1h-1zM717 511h1v1h-1zM720 515h1v1h-1zM720 516h1v1h-1zM721 517h1v1h-1zM724 521h1v1h-1zM725 522h1v1h-1zM725 523h1v1h-1zM729 526h1v1h-1zM730 527h1v1h-1zM731 527h1v1h-1z" fill="#FF0000"/></g><rect x="2.5" y="2.5" width="755" height="445" fill="none" stroke="#000"/><rect x="2.5" y="449.5" width="755" height="133" fill="none" stroke="#000"/><rect x="758" y="15" width="2" height="1" fill="#000"/><rect x="758" y="47" width="2" height="1" fill="#000"/><rect x="758" y="80" width="2" height="1" fill="#000"/><rect x="758" y="113" width="2" height="1" fill="#000"/><rect x="758" y="147" width="2" height="1" fill="#000"/><rect x="758" y="180" width="2" height="1" fill="#000"/><rect x="758" y="213" width="2" height="1" fill="#000"/><rect x="758" y="246" width="2" height="1" fill="#000"/><rect x="758" y="279" width="2" height="1" fill="#000"/><rect x="758" y="312" width="2" height="1" fill="#000"/><rect x="758" y="345" width="2" height="1" fill="#000"/><rect x="758" y="378" width="2" height="1" fill="#000"/><rect x="758" y="411" width="2" height="1" fill="#000"/><rect x="758" y="444" width="2" height="1" fill="#000"/><rect x="758" y="556" width="2" height="1" fill="#000"/><rect x="758" y="581" width="1" height="1" fill="#000"/><rect x="758" y="451" width="1" height="1" fill="#000"/><rect x="3" y="583" width="1" height="3" fill="#000"/><rect x="67" y="583" width="1" height="3" fill="#000"/><rect x="131" y="583" width="1" height="3" fill="#000"/><rect x="195" y="583" width="1" height="3" fill="#000"/><rect x="259" y="583" width="1" height="3" fill="#000"/><rect x="323" y="583" width="1" height="3" fill="#000"/><rect x="387" y="583" width="1" height="3" fill="#000"/><rect x="451" y="583" width="1" height="3" fill="#000"/><rect x="515" y="583" width="1" height="3" fill="#000"/><rect x="579" y="583" width="1" height="3" fill="#000"/><rect x="643" y="583" width="1" height="3" fill="#000"/><rect x="707" y="583" width="1" height="3" fill="#000"/><polygon points="6,9 13,9 9.5,13" fill="#000"/></svg>
<div class="t" style="left:18px;top:5px;color:#000">GOLD,H1</div><div class="t" style="left:66px;top:5px;color:#000">1175.50</div><div class="t" style="left:102px;top:5px;color:#000">1178.30</div><div class="t" style="left:138px;top:5px;color:#000">1173.30</div><div class="t" style="left:174px;top:5px;color:#000">1176.70</div><div class="t" style="left:7px;top:453px;color:#000;letter-spacing:-0.15px">MACD(5,34,5) 5.483 4.166</div><div class="t" style="left:763px;top:42px;color:#000">1174.65</div><div class="t" style="left:763px;top:75px;color:#000">1168.65</div><div class="t" style="left:763px;top:142px;color:#000">1156.50</div><div class="t" style="left:763px;top:175px;color:#000">1150.50</div><div class="t" style="left:763px;top:208px;color:#000">1144.35</div><div class="t" style="left:763px;top:241px;color:#000">1138.35</div><div class="t" style="left:763px;top:274px;color:#000">1132.35</div><div class="t" style="left:763px;top:307px;color:#000">1126.20</div><div class="t" style="left:763px;top:340px;color:#000">1120.20</div><div class="t" style="left:763px;top:373px;color:#000">1114.20</div><div class="t" style="left:763px;top:406px;color:#000">1108.05</div><div class="t" style="left:763px;top:439px;color:#000">1102.05</div><div class="t" style="left:762px;top:451px;color:#000">15.06</div><div class="t" style="left:762px;top:550px;color:#000">0.00</div><div class="t" style="left:761px;top:570px;color:#000">-3.643</div><div class="t" style="left:2px;top:586px;color:#000;letter-spacing:-0.1px">2 Oct 2015</div><div class="t" style="left:66px;top:586px;color:#000;letter-spacing:-0.1px">5 Oct 10:00</div><div class="t" style="left:130px;top:586px;color:#000;letter-spacing:-0.1px">6 Oct 03:00</div><div class="t" style="left:194px;top:586px;color:#000;letter-spacing:-0.1px">6 Oct 19:00</div><div class="t" style="left:258px;top:586px;color:#000;letter-spacing:-0.1px">7 Oct 12:00</div><div class="t" style="left:322px;top:586px;color:#000;letter-spacing:-0.1px">8 Oct 05:00</div><div class="t" style="left:386px;top:586px;color:#000;letter-spacing:-0.1px">8 Oct 21:00</div><div class="t" style="left:450px;top:586px;color:#000;letter-spacing:-0.1px">9 Oct 14:00</div><div class="t" style="left:514px;top:586px;color:#000;letter-spacing:-0.1px">12 Oct 07:00</div><div class="t" style="left:578px;top:586px;color:#000;letter-spacing:-0.1px">13 Oct 00:00</div><div class="t" style="left:642px;top:586px;color:#000;letter-spacing:-0.1px">13 Oct 16:00</div><div class="t" style="left:706px;top:586px;color:#000;letter-spacing:-0.1px">14 Oct 09:00</div>
<div class="box" style="top:11px;background:#FF0000"><div class="t" style="left:4px;top:0px;color:#fff">1180.31</div></div><div class="box" style="top:31px;background:#000"><div class="t" style="left:4px;top:0px;color:#fff">1176.70</div></div><div class="box" style="top:107px;background:#FF0000"><div class="t" style="left:4px;top:0px;color:#fff">1162.80</div></div><div class="box" style="top:168px;background:#FF0000"><div class="t" style="left:4px;top:0px;color:#fff">1151.49</div></div><div class="box" style="top:192px;background:#FF0000"><div class="t" style="left:4px;top:0px;color:#fff">1147.12</div></div><div class="box" style="top:252px;background:#FF0000"><div class="t" style="left:4px;top:0px;color:#fff">1136.18</div></div><div class="box" style="top:288px;background:#FF0000"><div class="t" style="left:4px;top:0px;color:#fff">1129.52</div></div><div class="box" style="top:347px;background:#FF0000"><div class="t" style="left:4px;top:0px;color:#fff">1118.81</div></div><div class="box" style="top:426px;background:#FF0000"><div class="t" style="left:4px;top:0px;color:#fff">1104.33</div></div>
</body></html>
